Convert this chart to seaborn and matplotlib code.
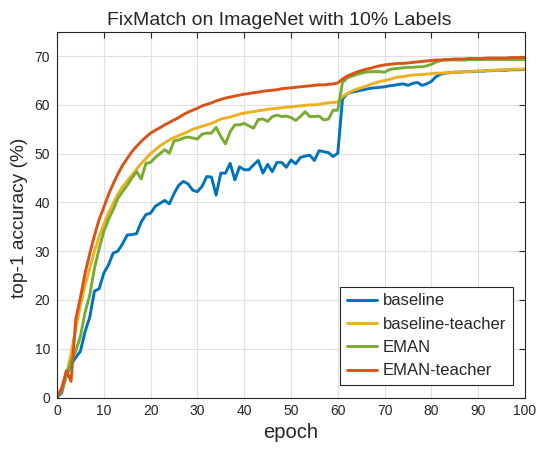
import numpy as np
import pandas as pd
import matplotlib
matplotlib.use("Agg")
import matplotlib.pyplot as plt
import seaborn as sns

epochs = list(range(0, 101))

baseline = [0, 1, 4.5, 6.8, 8.2, 9.5, 13.5, 16.5, 21.8, 22.3, 25.5, 27.2, 29.6, 30, 31.5, 33.3,
            33.4, 33.6, 36, 37.5, 37.8, 39.2, 39.8, 40.4, 39.7, 41.8, 43.5, 44.3, 43.8, 42.5,
            42.2, 43.3, 45.3, 45.2, 41.5, 46, 46, 48, 44.6, 47.3, 46.7, 46.7, 47.7, 48.6, 46,
            47.8, 46.3, 48.2, 48.2, 47.2, 48.7, 47.9, 49.2, 49.5, 49.7, 48.6, 50.6, 50.4, 50.2,
            49.4, 50.1, 61.2, 62.3, 62.6, 62.8, 63, 63.2, 63.4, 63.5, 63.6, 63.7, 63.9, 64,
            64.2, 64.3, 64, 64.4, 64.6, 64, 64.3, 64.8, 65.8, 66.3, 66.5, 66.6, 66.7, 66.7,
            66.8, 66.8, 66.8, 66.9, 66.9, 67, 67, 67.1, 67.1, 67.1, 67.2, 67.2, 67.2, 67.3]

baseline_teacher = [0.3, 1.5, 4.5, 9, 14, 19, 23, 26.5, 30, 33, 35.5, 37.8, 39.8, 41.7, 43.2,
                    44.4, 45.6, 46.8, 48, 49, 50, 50.8, 51.6, 52.2, 52.8, 53.3, 53.7, 54.1, 54.5,
                    55, 55.3, 55.6, 55.9, 56.2, 56.6, 57.1, 57.3, 57.5, 57.8, 58.1, 58.3, 58.5,
                    58.6, 58.8, 58.9, 59.1, 59.2, 59.3, 59.4, 59.5, 59.6, 59.7, 59.8, 59.9, 60,
                    60, 60.1, 60.3, 60.4, 60.5, 60.6, 61.7, 62.3, 62.8, 63.2, 63.5, 63.8, 64.2,
                    64.5, 64.8, 65, 65.2, 65.5, 65.7, 65.8, 66, 66.1, 66.2, 66.2, 66.3, 66.4,
                    66.5, 66.5, 66.6, 66.6, 66.7, 66.7, 66.8, 66.8, 66.9, 66.9, 67, 67, 67.1,
                    67.1, 67.2, 67.2, 67.3, 67.3, 67.3, 67.4]

eman = [0, 2, 4.5, 7.5, 9.5, 12.5, 17.5, 21, 26.5, 30.5, 34, 36.5, 38.5, 40.8, 42.2, 43.5, 45,
        46.3, 44.8, 48, 48.2, 49.2, 50, 50.8, 50.1, 52.6, 52.8, 53.2, 53.4, 53.2, 53, 54, 54.2,
        54.2, 55.4, 53.5, 52, 54.5, 55.9, 55.9, 56.2, 55.7, 55.2, 57, 57.1, 56.6, 57.6, 57.9,
        57.6, 57.7, 57.4, 56.8, 57.6, 58.6, 57.6, 57.6, 57.7, 56.9, 57.1, 58.9, 58.9, 64.6,
        65.5, 65.9, 66.2, 66.5, 66.7, 66.8, 66.8, 66.8, 66.7, 67.2, 67.4, 67.5, 67.6, 67.7,
        67.7, 67.8, 67.8, 68, 68.3, 68.8, 69.1, 69.2, 69.2, 69.2, 69.2, 69.2, 69.3, 69.3,
        69.3, 69.3, 69.3, 69.3, 69.3, 69.3, 69.3, 69.3, 69.3, 69.3, 69.3]

eman_teacher = [0.3, 1.8, 5.5, 3.3, 16, 20.5, 25.5, 29.5, 33.2, 36.5, 39, 41.6, 43.8, 45.8,
                47.6, 49, 50.4, 51.5, 52.5, 53.4, 54.2, 54.8, 55.3, 55.9, 56.4, 56.9, 57.4, 58,
                58.5, 58.9, 59.3, 59.8, 60.1, 60.4, 60.8, 61.1, 61.4, 61.6, 61.8, 62, 62.2,
                62.3, 62.5, 62.6, 62.8, 62.9, 63, 63.1, 63.3, 63.4, 63.5, 63.6, 63.7, 63.8,
                63.9, 64, 64.1, 64.1, 64.2, 64.3, 64.5, 65.3, 65.9, 66.3, 66.7, 67, 67.3, 67.5,
                67.8, 68, 68.2, 68.3, 68.4, 68.5, 68.5, 68.6, 68.7, 68.8, 68.9, 69, 69.1, 69.2,
                69.2, 69.3, 69.3, 69.4, 69.4, 69.4, 69.5, 69.5, 69.5, 69.5, 69.6, 69.6, 69.6,
                69.6, 69.6, 69.7, 69.7, 69.7, 69.7]

series_names = ["baseline", "baseline-teacher", "EMAN", "EMAN-teacher"]
series_values = [baseline, baseline_teacher, eman, eman_teacher]
colors = ["#0072BD", "#EDB120", "#77AC30", "#D95319"]

x_ticks = list(range(0, 101, 10))
y_ticks = list(range(0, 71, 10))

df = pd.concat([pd.DataFrame({"epoch": epochs, "acc": v, "series": n})
                for n, v in zip(series_names, series_values)], ignore_index=True)

sns.set_theme(style="white")
plt.rcParams["font.family"] = ["Liberation Sans", "DejaVu Sans"]

fig = plt.figure(figsize=(5.39, 4.49), dpi=100)
ax = fig.add_axes([57/539, 1 - 397.5/449, (525 - 57)/539, (397.5 - 31.7)/449])

sns.lineplot(data=df, x="epoch", y="acc", hue="series", hue_order=series_names,
             palette=colors, linewidth=2.1, ax=ax, legend=True)

ax.set_xlim(0, 100)
ax.set_ylim(0, 75)
ax.set_xticks(x_ticks)
ax.set_yticks(y_ticks)
ax.grid(True, color="#e0e0e0", linewidth=0.8)
ax.set_axisbelow(True)
for s in ax.spines.values():
    s.set_visible(True)
    s.set_color("#262626")
    s.set_linewidth(0.8)
ax.tick_params(direction="in", top=True, right=True, length=4, width=0.8,
               colors="#262626", labelsize=10, pad=5)
ax.set_xlabel("epoch", fontsize=14.5, color="#262626", labelpad=3)
ax.set_ylabel("top-1 accuracy (%)", fontsize=13.8, color="#262626")
ax.yaxis.set_label_coords(-0.062, 0.49)
ax.set_title("FixMatch on ImageNet with 10% Labels", fontsize=14, color="#262626",
             pad=5, x=0.474)

leg = ax.legend(loc="lower right", fontsize=12, frameon=True, fancybox=False,
                edgecolor="#262626", framealpha=1, borderaxespad=0.75,
                handlelength=1.85, handletextpad=0.3, labelspacing=0.5, borderpad=0.4)
leg.get_frame().set_linewidth(0.8)
for line in leg.get_lines():
    line.set_linewidth(2.1)

fig.savefig("out.png", dpi=100)
